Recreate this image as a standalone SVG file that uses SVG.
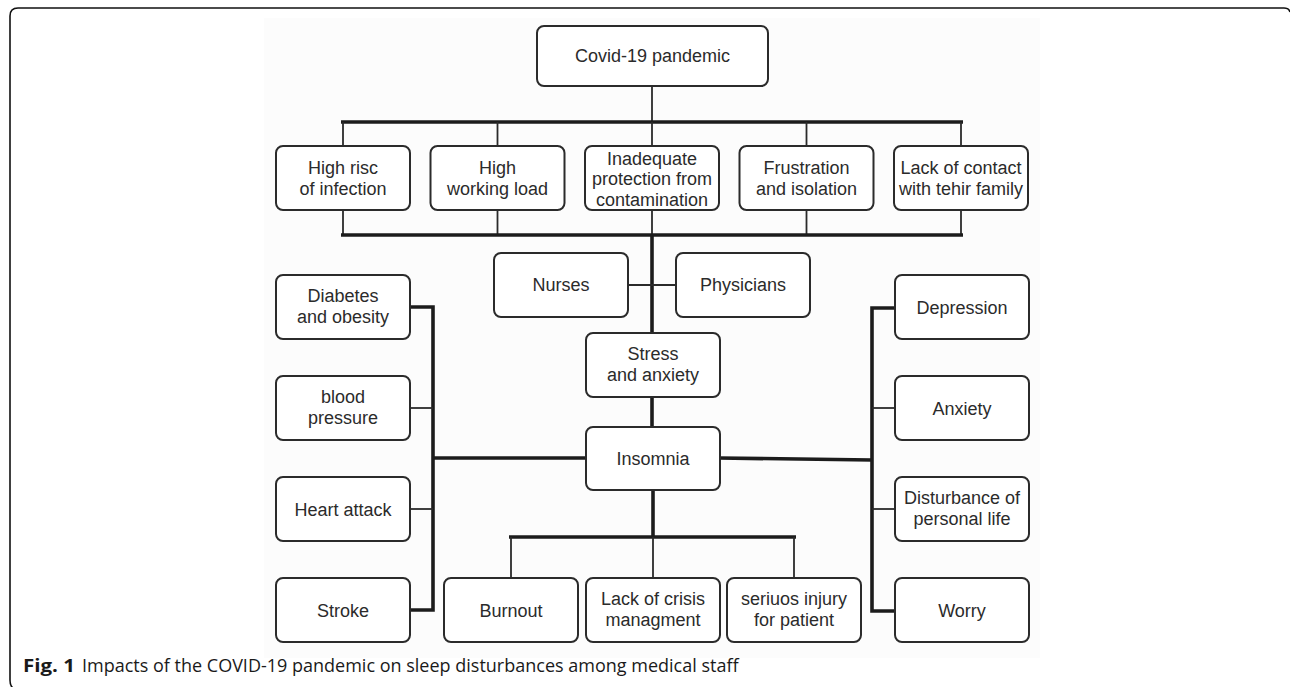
<svg xmlns="http://www.w3.org/2000/svg" width="1290" height="687" viewBox="0 0 1290 687">
<style>
.box{fill:#fff;stroke:#2b2b2b;stroke-width:2}
.t{font-family:"Liberation Sans",Arial,sans-serif;font-size:18px;fill:#2b2b2b;text-anchor:middle}
.thin{stroke:#2b2b2b;stroke-width:1.8;fill:none}
.thick{stroke:#1c1c1c;stroke-width:3.6;fill:none}
.cap{font-family:"Open Sans","Liberation Sans",sans-serif;font-size:18px;fill:#1a1a1a}
</style>
<rect x="0" y="0" width="1290" height="687" fill="#fff"/>
<rect x="264" y="18" width="776" height="640" fill="#fcfcfc"/>
<path d="M1290 12 Q1289 8 1284 8 L18 8 Q10 8 10 16 L10 680 Q10 686 13 688" fill="none" stroke="#111" stroke-width="1.6"/>

<g id="connectors">
  <line class="thin" x1="652" y1="86" x2="652" y2="122"/>
  <line class="thick" x1="341" y1="122" x2="963" y2="122"/>
  <line class="thin" x1="343" y1="122" x2="343" y2="146"/>
  <line class="thin" x1="497.5" y1="122" x2="497.5" y2="146"/>
  <line class="thin" x1="652" y1="122" x2="652" y2="146"/>
  <line class="thin" x1="806.5" y1="122" x2="806.5" y2="146"/>
  <line class="thin" x1="961" y1="122" x2="961" y2="146"/>
  <line class="thin" x1="343" y1="210" x2="343" y2="235"/>
  <line class="thin" x1="497.5" y1="210" x2="497.5" y2="235"/>
  <line class="thin" x1="652" y1="210" x2="652" y2="235"/>
  <line class="thin" x1="806.5" y1="210" x2="806.5" y2="235"/>
  <line class="thin" x1="961" y1="210" x2="961" y2="235"/>
  <line class="thick" x1="341" y1="235" x2="963" y2="235"/>
  <line class="thick" x1="652" y1="235" x2="652" y2="333"/>
  <line class="thin" x1="628" y1="285" x2="676" y2="285"/>
  <line class="thick" x1="652" y1="397" x2="652" y2="427"/>
  <line class="thick" x1="586" y1="458" x2="433" y2="458"/>
  <polyline class="thick" points="410,307 433,307 433,610 410,610"/>
  <line class="thin" x1="410" y1="408" x2="433" y2="408"/>
  <line class="thin" x1="410" y1="509" x2="433" y2="509"/>
  <line class="thick" x1="719" y1="458" x2="872" y2="460"/>
  <polyline class="thick" points="895,308 872,308 872,611 895,611"/>
  <line class="thin" x1="872" y1="408" x2="895" y2="408"/>
  <line class="thin" x1="872" y1="509" x2="895" y2="509"/>
  <line class="thick" x1="653" y1="490" x2="653" y2="537"/>
  <line class="thick" x1="509" y1="537" x2="796" y2="537"/>
  <line class="thin" x1="511" y1="537" x2="511" y2="578"/>
  <line class="thin" x1="653" y1="537" x2="653" y2="578"/>
  <line class="thin" x1="794" y1="537" x2="794" y2="578"/>
</g>

<g id="covid"><rect class="box" x="537" y="26" width="231" height="60" rx="7"/><text class="t" x="652.5" y="62">Covid-19 pandemic</text></g>

<g id="risk"><rect class="box" x="276" y="146" width="134" height="64" rx="7"/><text class="t" x="343" y="174">High risc</text><text class="t" x="343" y="195">of infection</text></g>
<g id="workload"><rect class="box" x="430.5" y="146" width="134" height="64" rx="7"/><text class="t" x="497.5" y="174">High</text><text class="t" x="497.5" y="195">working load</text></g>
<g id="protection"><rect class="box" x="585" y="146" width="134" height="64" rx="7"/><text class="t" x="652" y="164.5">Inadequate</text><text class="t" x="652" y="185">protection from</text><text class="t" x="652" y="205.5">contamination</text></g>
<g id="frustration"><rect class="box" x="739.5" y="146" width="134" height="64" rx="7"/><text class="t" x="806.5" y="174">Frustration</text><text class="t" x="806.5" y="195">and isolation</text></g>
<g id="contact"><rect class="box" x="894" y="146" width="134" height="64" rx="7"/><text class="t" x="961" y="174">Lack of contact</text><text class="t" x="961" y="195">with tehir family</text></g>

<g id="nurses"><rect class="box" x="494" y="253" width="134" height="64" rx="7"/><text class="t" x="561" y="291">Nurses</text></g>
<g id="physicians"><rect class="box" x="676" y="253" width="134" height="64" rx="7"/><text class="t" x="743" y="291">Physicians</text></g>
<g id="stress"><rect class="box" x="586" y="333" width="134" height="64" rx="7"/><text class="t" x="653" y="360">Stress</text><text class="t" x="653" y="381">and anxiety</text></g>
<g id="insomnia"><rect class="box" x="586" y="427" width="134" height="63" rx="7"/><text class="t" x="653" y="465">Insomnia</text></g>

<g id="diabetes"><rect class="box" x="276" y="275" width="134" height="64" rx="7"/><text class="t" x="343" y="302">Diabetes</text><text class="t" x="343" y="323">and obesity</text></g>
<g id="bloodpressure"><rect class="box" x="276" y="376" width="134" height="64" rx="7"/><text class="t" x="343" y="403">blood</text><text class="t" x="343" y="424">pressure</text></g>
<g id="heartattack"><rect class="box" x="276" y="477" width="134" height="64" rx="7"/><text class="t" x="343" y="515.5">Heart attack</text></g>
<g id="stroke"><rect class="box" x="276" y="578" width="134" height="64" rx="7"/><text class="t" x="343" y="616.5">Stroke</text></g>

<g id="depression"><rect class="box" x="895" y="275" width="134" height="64" rx="7"/><text class="t" x="962" y="313.5">Depression</text></g>
<g id="anxiety"><rect class="box" x="895" y="376" width="134" height="64" rx="7"/><text class="t" x="962" y="414.5">Anxiety</text></g>
<g id="disturbance"><rect class="box" x="895" y="477" width="134" height="64" rx="7"/><text class="t" x="962" y="504">Disturbance of</text><text class="t" x="962" y="525">personal life</text></g>
<g id="worry"><rect class="box" x="895" y="578" width="134" height="64" rx="7"/><text class="t" x="962" y="616.5">Worry</text></g>

<g id="burnout"><rect class="box" x="444" y="578" width="134" height="64" rx="7"/><text class="t" x="511" y="616.5">Burnout</text></g>
<g id="crisis"><rect class="box" x="586" y="578" width="134" height="64" rx="7"/><text class="t" x="653" y="605">Lack of crisis</text><text class="t" x="653" y="626">managment</text></g>
<g id="injury"><rect class="box" x="727" y="578" width="134" height="64" rx="7"/><text class="t" x="794" y="605">seriuos injury</text><text class="t" x="794" y="626">for patient</text></g>

<text class="cap" x="23" y="672" font-weight="bold" font-size="19" textLength="52" lengthAdjust="spacingAndGlyphs">Fig. 1</text>
<text class="cap" x="82" y="672">Impacts of the COVID-19 pandemic on sleep disturbances among medical staff</text>
</svg>
